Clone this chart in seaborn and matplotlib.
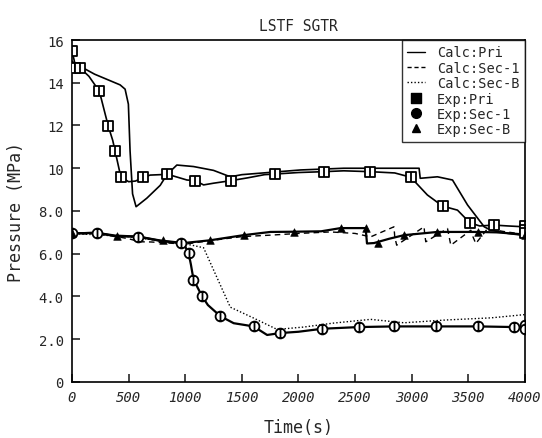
import numpy as np
import pandas as pd
import matplotlib
matplotlib.use("Agg")
import matplotlib.pyplot as plt
import seaborn as sns
from matplotlib.path import Path
from matplotlib.lines import Line2D

# Calc:Pri (solid)
calc_pri_t = [0, 27, 200, 425, 469, 498, 513, 535, 566, 661, 779, 838, 926, 1073, 1250, 1398, 1500, 1664,
              2018, 2400, 2631, 3065, 3075, 3227, 3360, 3493, 3640, 3699, 3850, 4000]
calc_pri_p = [15.0, 14.9, 14.4, 13.9, 13.7, 13.0, 10.8, 8.8, 8.2, 8.6, 9.2, 9.7, 10.15, 10.08, 9.9, 9.6, 9.7, 9.77,
              9.92, 10.0, 10.0, 10.0, 9.53, 9.6, 9.45, 8.28, 7.26, 7.1, 6.95, 6.85]

# Calc:Sec-1 (dashed)
calc_sec1_t = [0, 300, 500, 602, 700, 1000, 1200, 1500, 1752, 2000, 2283, 2500, 2637, 2843, 2850, 2867, 3109,
               3115, 3124, 3316, 3330, 3345, 3522, 3540, 3566, 3670, 3800, 4000]
calc_sec1_p = [6.95, 6.9, 6.7, 6.56, 6.55, 6.45, 6.6, 6.8, 6.87, 6.95, 7.02, 6.95, 6.79, 7.26, 6.8, 6.4, 7.26,
               6.9, 6.56, 7.18, 6.8, 6.4, 7.1, 6.8, 6.48, 7.18, 7.05, 6.9]

# Calc:Sec-B (dotted)
calc_secb_t = [0, 500, 1000, 1059, 1162, 1398, 1600, 1811, 2047, 2300, 2637, 2932, 3300, 3700, 3994]
calc_secb_p = [6.95, 6.8, 6.45, 6.4, 6.28, 3.5, 3.0, 2.46, 2.57, 2.75, 2.93, 2.77, 2.9, 3.0, 3.15]

# Exp:Pri
exp_pri_t = [0, 30, 70, 150, 242, 290, 321, 360, 381, 431, 500, 560, 631, 690, 780, 843, 1015, 1088, 1162, 1250,
             1404, 1550, 1700, 1796, 2000, 2224, 2400, 2631, 2850, 2991, 3138, 3272, 3404, 3513, 3600, 3728, 3850,
             3994, 4000]
exp_pri_p = [15.5, 14.8, 14.7, 14.3, 13.6, 12.6, 11.96, 11.3, 10.8, 9.6, 9.37, 9.4, 9.57, 9.68, 9.7, 9.72, 9.45,
             9.42, 9.22, 9.3, 9.42, 9.55, 9.7, 9.73, 9.8, 9.84, 9.88, 9.84, 9.78, 9.58, 8.75, 8.23, 8.04, 7.45, 7.3,
             7.34, 7.3, 7.26, 7.3]
exp_pri_mt = [0, 30, 70, 242, 321, 381, 431, 631, 843, 1088, 1404, 1796, 2224, 2631, 2991, 3272, 3513, 3728,
              4000, 4000, 4000]
exp_pri_mp = [15.5, 14.7, 14.7, 13.6, 11.96, 10.8, 9.6, 9.57, 9.72, 9.42, 9.42, 9.73, 9.84, 9.84, 9.58, 8.23,
              7.45, 7.34, 7.3, 7.1, 6.95]

# Exp:Sec-1
exp_sec1_t = [0, 218, 381, 587, 779, 985, 1029, 1050, 1073, 1148, 1200, 1310, 1428, 1604, 1723, 1841, 2000, 2209,
              2534, 2843, 3212, 3587, 3905, 4000]
exp_sec1_p = [6.95, 6.98, 6.85, 6.8, 6.6, 6.48, 6.04, 5.5, 4.79, 4.02, 3.6, 3.08, 2.75, 2.6, 2.2, 2.29, 2.35,
              2.49, 2.57, 2.6, 2.6, 2.6, 2.57, 2.5]
exp_sec1_mt = [0, 218, 587, 960, 1029, 1073, 1148, 1310, 1604, 1841, 2209, 2534, 2843, 3212, 3587, 3905, 4000,
               4000]
exp_sec1_mp = [6.95, 6.98, 6.8, 6.5, 6.04, 4.79, 4.02, 3.08, 2.6, 2.29, 2.49, 2.57, 2.6, 2.6, 2.6, 2.57, 2.65,
               2.5]

# Exp:Sec-B
exp_secb_t = [0, 218, 381, 587, 779, 985, 1221, 1516, 1752, 1958, 2200, 2372, 2593, 2605, 2667, 2800, 2932, 3227,
              3581, 3750, 4000]
exp_secb_p = [6.95, 6.98, 6.82, 6.8, 6.62, 6.5, 6.63, 6.87, 7.02, 7.03, 7.05, 7.2, 7.2, 6.48, 6.5, 6.7, 6.87,
              7.02, 7.02, 7.0, 6.9]
exp_secb_mt = [0, 400, 800, 1221, 1516, 1958, 2372, 2593, 2700, 2932, 3227, 3581, 4000]
exp_secb_mp = [6.95, 6.82, 6.62, 6.63, 6.87, 7.03, 7.2, 7.2, 6.5, 6.87, 7.02, 7.02, 6.9]

x_ticks = [0, 500, 1000, 1500, 2000, 2500, 3000, 3500, 4000]
y_ticks = [0, 2, 4, 6, 8, 10, 12, 14, 16]
y_tick_labels = ["0", "2.0", "4.0", "6.0", "8.0", "10", "12", "14", "16"]

# marker shapes: split box and split circle
bar = Path([(0, -1), (0, 1)], [Path.MOVETO, Path.LINETO])
sq = Path([(-1, -1), (1, -1), (1, 1), (-1, 1), (-1, -1)],
          [Path.MOVETO, Path.LINETO, Path.LINETO, Path.LINETO, Path.CLOSEPOLY])
box_mark = Path.make_compound_path(sq, bar)
circ_mark = Path.make_compound_path(Path.unit_circle(), bar)

sns.set_style("ticks", {"xtick.direction": "in", "ytick.direction": "in"})
plt.rcParams['font.family'] = ['DejaVu Sans Mono']

fig = plt.figure(figsize=(5.42, 4.39), dpi=100)
ax = fig.add_axes([0.1328, 0.1276, 0.8358, 0.779])

def line(t, p, **kw):
    df = pd.DataFrame({"t": t, "p": p})
    sns.lineplot(data=df, x="t", y="p", estimator=None, sort=False, color="black", ax=ax, **kw)

def marks(t, p, m, **kw):
    df = pd.DataFrame({"t": t, "p": p})
    sns.scatterplot(data=df, x="t", y="p", marker=m, ax=ax, zorder=5, **kw)

line(calc_pri_t, calc_pri_p, linewidth=1.2)
line(calc_sec1_t, calc_sec1_p, linewidth=1.0, linestyle=(0, (4, 3)))
line(calc_secb_t, calc_secb_p, linewidth=1.0, linestyle=(0, (1, 1.5)))
line(exp_pri_t, exp_pri_p, linewidth=1.2)
line(exp_sec1_t, exp_sec1_p, linewidth=1.6)
line(exp_secb_t, exp_secb_p, linewidth=1.6)

marks(exp_pri_mt, exp_pri_mp, box_mark, s=55, facecolor="white", edgecolor="black", linewidth=1.3)
marks(exp_sec1_mt, exp_sec1_mp, circ_mark, s=50, facecolor="white", edgecolor="black", linewidth=1.3)
marks(exp_secb_mt, exp_secb_mp, "^", s=30, color="black", edgecolor="black")

ax.set_xlim(0, 4000)
ax.set_ylim(0, 16)
ax.set_xticks(x_ticks)
ax.set_xticklabels([str(v) for v in x_ticks], fontsize=10, style="italic")
ax.set_yticks(y_ticks)
ax.set_yticklabels(y_tick_labels, fontsize=10)
ax.tick_params(length=6, width=1.2, top=False, right=False, pad=6)
for s in ax.spines.values():
    s.set_linewidth(1.2)
    s.set_color("black")

ax.set_xlabel("Time(s)", fontsize=12, labelpad=10)
ax.set_ylabel("Pressure (MPa)", fontsize=12, labelpad=10)
ax.set_title("LSTF SGTR", fontsize=10.5, pad=7)

handles = [
    Line2D([], [], color="black", linewidth=1.0),
    Line2D([], [], color="black", linewidth=1.0, linestyle=(0, (3, 2))),
    Line2D([], [], color="black", linewidth=1.0, linestyle=(0, (1, 1.5))),
    Line2D([], [], color="black", linestyle="", marker=box_mark, markersize=7,
           markerfacecolor="black", markeredgecolor="black"),
    Line2D([], [], color="black", linestyle="", marker="o", markersize=7),
    Line2D([], [], color="black", linestyle="", marker="^", markersize=6),
]
labels = ["Calc:Pri", "Calc:Sec-1", "Calc:Sec-B", "Exp:Pri", "Exp:Sec-1", "Exp:Sec-B"]
leg = ax.legend(handles, labels, loc="upper right", borderaxespad=0, fontsize=9.8, frameon=True,
                fancybox=False, edgecolor="black", handlelength=1.3, labelspacing=0.1,
                handletextpad=0.9, borderpad=0.4)
leg.get_frame().set_linewidth(1.0)

fig.savefig("out.png", dpi=100)
